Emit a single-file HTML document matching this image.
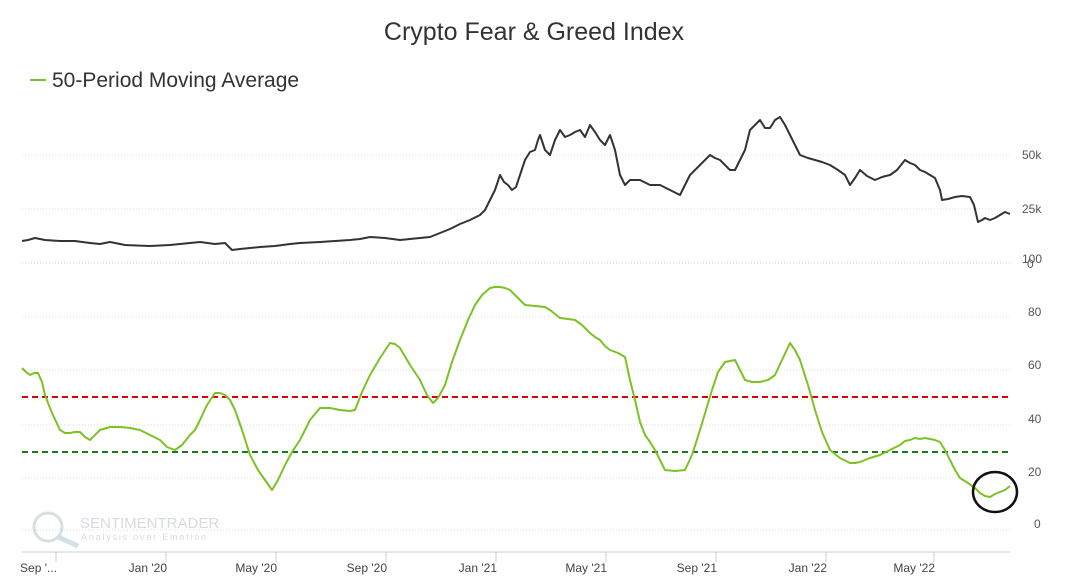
<!DOCTYPE html>
<html><head><meta charset="utf-8"><style>
html,body{margin:0;padding:0;background:#fff;}
svg{display:block;font-family:"Liberation Sans",sans-serif;}
</style></head><body>
<svg width="1076" height="585" viewBox="0 0 1076 585">
<rect width="1076" height="585" fill="#fff"/>
<text x="534" y="40" text-anchor="middle" font-size="25" fill="#333">Crypto Fear &amp; Greed Index</text>
<line x1="30" y1="80" x2="46" y2="80" stroke="#7cc225" stroke-width="2"/>
<text x="52" y="87" font-size="21" fill="#333">50-Period Moving Average</text>
<g stroke="#ddd" stroke-dasharray="1,2" stroke-width="1">
<line x1="22" y1="155" x2="1010" y2="155"/><line x1="22" y1="209" x2="1010" y2="209"/>
<line x1="22" y1="263" x2="1010" y2="263" stroke="#ccc"/>
<line x1="22" y1="317" x2="1010" y2="317"/><line x1="22" y1="370" x2="1010" y2="370"/>
<line x1="22" y1="425" x2="1010" y2="425"/><line x1="22" y1="478" x2="1010" y2="478"/>
<line x1="22" y1="530" x2="1010" y2="530"/>
</g>
<g font-size="12" fill="#555">
<text x="1022" y="159">50k</text><text x="1022" y="213">25k</text>
<text x="1022" y="263">100</text><text x="1027" y="268">0</text>
<text x="1028" y="316">80</text><text x="1028" y="369">60</text>
<text x="1028" y="423">40</text><text x="1028" y="476">20</text>
<text x="1034" y="528">0</text>
</g>
<g opacity="0.35">
<circle cx="48" cy="527" r="14" fill="none" stroke="#8aa" stroke-width="3"/>
<line x1="58" y1="537" x2="78" y2="546" stroke="#7ab" stroke-width="5"/>
<text x="80" y="528" font-size="15" fill="#89a">SENTIMENTRADER</text>
<text x="81" y="540" font-size="9" fill="#89a" letter-spacing="1.8">Analysis over Emotion</text>
</g>
<line x1="22" y1="552" x2="1010" y2="552" stroke="#ccc"/>
<g stroke="#ccc"><line x1="56" y1="552" x2="56" y2="562"/><line x1="166" y1="552" x2="166" y2="562"/><line x1="276" y1="552" x2="276" y2="562"/><line x1="386" y1="552" x2="386" y2="562"/><line x1="496" y1="552" x2="496" y2="562"/><line x1="606" y1="552" x2="606" y2="562"/><line x1="716" y1="552" x2="716" y2="562"/><line x1="826" y1="552" x2="826" y2="562"/><line x1="934" y1="552" x2="934" y2="562"/></g>
<g font-size="12" fill="#444" text-anchor="end">
<text x="57" y="572">Sep '...</text><text x="167" y="572">Jan '20</text><text x="277" y="572">May '20</text>
<text x="387" y="572">Sep '20</text><text x="497" y="572">Jan '21</text><text x="607" y="572">May '21</text>
<text x="717" y="572">Sep '21</text><text x="827" y="572">Jan '22</text><text x="935" y="572">May '22</text>
</g>
<line x1="22" y1="397" x2="1010" y2="397" stroke="#d00" stroke-width="2" stroke-dasharray="6,4"/>
<line x1="22" y1="452" x2="1010" y2="452" stroke="#1a7a1a" stroke-width="2" stroke-dasharray="6,4"/>
<polyline fill="none" stroke="#333" stroke-width="2" stroke-linejoin="round" points="22,241 28,240 35,238 45,240 60,241 75,241 90,243 100,244 110,242 125,245 150,246 170,245 190,243 200,242 215,244 225,243 232,250 240,249 260,247 275,246 290,244 300,243 320,242 350,240 360,239 370,237 385,238 400,240 410,239 420,238 430,237 440,233 450,229 460,224 470,220 480,215 485,210 490,200 495,190 500,175 504,182 508,185 512,190 516,187 520,175 525,160 530,152 535,150 538,140 540,135 545,150 550,155 555,140 560,130 565,137 570,135 575,132 580,130 585,137 590,125 595,132 600,140 605,145 610,135 615,150 620,175 625,185 630,180 640,180 650,185 660,185 670,190 680,195 685,185 690,175 695,170 700,165 705,160 710,155 715,158 720,160 725,165 730,170 735,170 740,160 745,150 750,130 755,125 760,120 765,128 770,128 775,120 780,117 785,125 790,135 795,145 800,155 808,158 815,160 822,162 830,165 838,170 845,175 850,185 855,178 860,170 867,176 875,180 882,177 890,175 897,170 905,160 910,163 915,165 920,170 925,172 930,175 935,178 940,190 942,200 948,199 955,197 962,196 970,197 974,205 978,222 982,220 985,218 990,220 995,218 1000,215 1005,212 1010,214"/>
<polyline fill="none" stroke="#7cc225" stroke-width="2" stroke-linejoin="round" points="22,368 26,372 30,375 34,373 38,373 42,382 45,395 52,413 60,430 65,433 70,433 75,432 80,432 85,437 90,440 95,435 100,430 110,427 120,427 130,428 140,430 150,435 160,440 167,447 175,450 182,445 190,435 195,430 200,420 207,405 215,393 220,393 225,395 230,400 235,410 242,430 250,455 258,470 265,480 272,490 278,480 285,465 292,452 300,440 310,420 320,408 330,408 340,410 350,411 355,410 362,392 370,375 380,358 390,343 395,344 400,348 410,365 420,380 427,395 433,403 438,398 445,385 452,362 460,340 468,320 475,305 482,295 490,288 495,287 500,287 505,288 510,290 518,298 525,305 535,306 545,307 550,310 560,318 568,319 575,320 582,325 590,333 595,337 600,340 605,346 610,350 618,353 625,357 630,380 635,400 640,422 645,435 650,442 655,450 660,460 665,470 675,471 685,470 692,455 700,430 706,410 712,390 718,372 725,362 730,361 735,360 740,370 745,380 752,382 760,382 768,380 775,375 782,360 790,343 795,350 800,360 808,385 815,410 822,432 830,450 840,458 850,463 855,463 860,462 870,458 880,455 890,450 900,445 905,441 910,440 915,438 920,439 925,438 935,440 940,442 945,450 950,460 955,470 960,478 968,483 975,488 980,493 985,496 990,497 995,494 1000,492 1005,490 1010,486"/>
<ellipse cx="995" cy="492" rx="22" ry="20" fill="none" stroke="#111" stroke-width="2.5"/>
</svg>
</body></html>
